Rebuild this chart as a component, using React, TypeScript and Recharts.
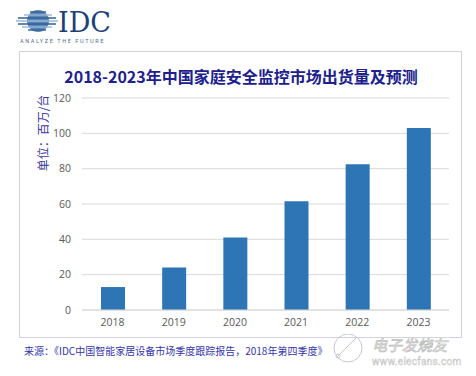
import { BarChart, Bar, XAxis, YAxis, CartesianGrid } from "recharts";

const YEARS = ["2018", "2019", "2020", "2021", "2022", "2023"];
const SHIPMENTS = [13, 24, 41, 61.5, 82.5, 103];
const Y_TICKS = [0, 20, 40, 60, 80, 100, 120];

const DATA = YEARS.map((year, i) => ({ year, value: SHIPMENTS[i] }));

const CJK = '"Noto Sans CJK SC", "Noto Sans", sans-serif';

function Logo() {
  const stripes = [
    { y: 12, x1: 30, x2: 46 },
    { y: 15, x1: 24, x2: 52 },
    { y: 18, x1: 18, x2: 56 },
    { y: 21, x1: 16, x2: 58 },
    { y: 24, x1: 18, x2: 56 },
    { y: 27, x1: 22, x2: 52 },
    { y: 30, x1: 28, x2: 46 },
  ];
  return (
    <svg width={160} height={48} style={{ position: "absolute", left: 0, top: 0 }}>
      <circle cx={38} cy={21} r={11} fill="#5a87b8" />
      {stripes.map((s, i) => (
        <line key={i} x1={s.x1} x2={s.x2} y1={s.y} y2={s.y} stroke={i % 2 ? "#9bb6d4" : "#2f5f95"} strokeWidth={1.4} />
      ))}
      <text x={58} y={32} fontFamily='"DejaVu Serif", "Liberation Serif", serif' fontSize={27} fill="#1d3f78">
        IDC
      </text>
      <text x={20} y={43} fontFamily="Roboto, sans-serif" fontSize={5.5} letterSpacing={1.6} fill="#4d6b8c">
        ANALYZE THE FUTURE
      </text>
    </svg>
  );
}

function Watermark() {
  return (
    <svg width={150} height={40} style={{ position: "absolute", left: 326, top: 334 }}>
      <circle cx={22} cy={14} r={14} fill="none" stroke="#c9c9c9" strokeWidth={1} />
      <path d="M12 22 L22 12 L30 4" fill="none" stroke="#c9c9c9" strokeWidth={1} />
      <circle cx={12} cy={22} r={2} fill="none" stroke="#c9c9c9" />
      <text x={46} y={17} fontFamily={CJK} fontStyle="italic" fontSize={15} fill="#fff" stroke="#bdbdbd" strokeWidth={0.7}>
        电子发烧友
      </text>
      <text x={46} y={31} fontFamily="Roboto, sans-serif" fontSize={10} fill="#fff" stroke="#c4c4c4" strokeWidth={0.5} letterSpacing={0.3}>
        www.elecfans.com
      </text>
    </svg>
  );
}

export default function App() {
  return (
    <div style={{ position: "absolute", left: 0, top: 0, width: 476, height: 376, background: "#fff", overflow: "hidden" }}>
      <Logo />
      <div
        style={{
          position: "absolute",
          left: 19,
          top: 51,
          width: 441,
          height: 285,
          border: "1px solid #d3d3de",
        }}
      />
      <div
        style={{
          position: "absolute",
          left: 0,
          width: 482,
          top: 64,
          textAlign: "center",
          fontFamily: CJK,
          fontWeight: 700,
          fontSize: 16,
          color: "#20208c",
          whiteSpace: "nowrap",
        }}
      >
        2018-2023年中国家庭安全监控市场出货量及预测
      </div>
      <div
        style={{
          position: "absolute",
          left: 42,
          top: 133,
          transform: "translate(-50%, -50%) rotate(-90deg)",
          fontFamily: CJK,
          fontSize: 12,
          color: "#3b3b98",
          whiteSpace: "nowrap",
        }}
      >
        单位：百万/台
      </div>
      <BarChart
        width={476}
        height={376}
        data={DATA}
        margin={{ top: 98, right: 27, bottom: 36, left: 0 }}
        style={{ position: "absolute", left: 0, top: 0 }}
      >
        <CartesianGrid horizontal vertical={false} stroke="#d9d9d9" />
        <XAxis
          dataKey="year"
          height={30}
          axisLine={{ stroke: "#d9d9d9" }}
          tickLine={false}
          tickMargin={3}
          tick={{ fill: "#595959", fontSize: 10.5, fontFamily: '"Open Sans", sans-serif' }}
        />
        <YAxis
          width={82}
          domain={[0, 120]}
          ticks={Y_TICKS}
          axisLine={false}
          tickLine={false}
          tickMargin={5}
          tick={{ fill: "#595959", fontSize: 10.5, fontFamily: '"Open Sans", sans-serif' }}
        />
        <Bar dataKey="value" fill="#2e75b6" barSize={24} isAnimationActive={false} />
      </BarChart>
      <div
        style={{
          position: "absolute",
          left: 24,
          top: 343,
          fontFamily: CJK,
          fontSize: 10,
          color: "#3636a8",
          whiteSpace: "nowrap",
        }}
      >
        来源：《IDC中国智能家居设备市场季度跟踪报告，2018年第四季度》
      </div>
      <Watermark />
    </div>
  );
}
